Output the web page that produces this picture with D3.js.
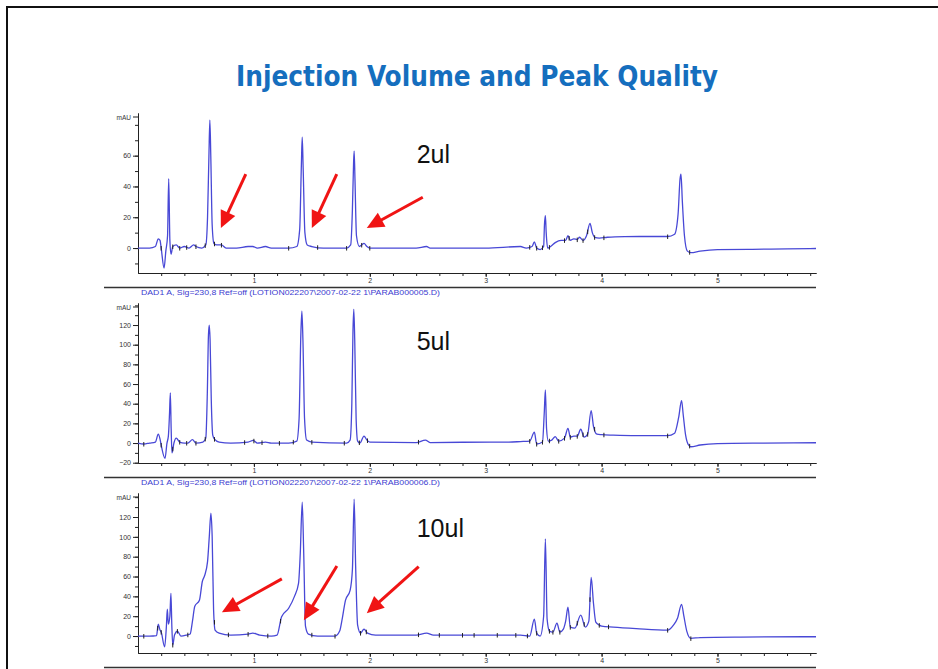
<!DOCTYPE html>
<html lang="en">
<head>
<meta charset="UTF-8">
<title>Injection Volume and Peak Quality</title>
<script src="https://d3js.org/d3.v7.min.js"></script>
<style>
  body { margin: 0; background: #fff; }
  svg { display: block; }
</style>
</head>
<body>
<script>
// chromatogram traces: [time (min), signal (mAU)]
const trace2ul = [[0,0],[0.1,0],[0.15,1],[0.175,6],[0.19,5],[0.2,0],[0.225,-13],[0.24,-2],[0.255,8],[0.265,45],[0.275,5],[0.285,-4],[0.3,1],[0.33,2],[0.36,0],[0.4,1],[0.44,0],[0.48,2],[0.5,1],[0.55,0],[0.585,2],[0.6,20],[0.612,60],[0.62,83],[0.628,60],[0.64,15],[0.655,3],[0.68,2],[0.72,2],[0.76,0],[0.85,0],[0.95,1],[0.99,1],[1.03,0],[1.1,1],[1.15,0],[1.3,0],[1.37,1],[1.395,12],[1.41,55],[1.417,72],[1.425,52],[1.44,10],[1.46,2],[1.5,1],[1.6,0],[1.8,0],[1.835,2],[1.85,25],[1.86,55],[1.865,63],[1.872,45],[1.885,8],[1.91,1],[1.93,2],[1.95,3],[1.975,1],[2.0,0],[2.4,0],[2.49,1],[2.52,0],[3.0,0],[3.3,1],[3.35,0],[3.4,1],[3.42,4],[3.44,0],[3.47,-1],[3.5,1],[3.507,15],[3.515,21],[3.522,10],[3.535,0],[3.56,1],[3.6,3.5],[3.65,5],[3.69,5],[3.71,8],[3.73,5],[3.76,6],[3.79,5.5],[3.81,7],[3.84,5],[3.87,8],[3.9,16],[3.92,10],[3.94,7],[3.98,6.5],[4.05,7],[4.2,7.4],[4.4,7.5],[4.57,7.5],[4.63,9],[4.66,22],[4.677,45],[4.685,48],[4.697,30],[4.715,8],[4.74,-2],[4.77,-3],[4.85,-2],[5.0,-1],[5.3,-0.8],[5.6,-0.5],[5.85,-0.3]];

const trace5ul = [[0,0],[0.05,-1],[0.1,0],[0.15,1],[0.175,9],[0.19,4],[0.2,-2],[0.233,-15.6],[0.25,0],[0.262,7],[0.272,30],[0.279,51],[0.286,15],[0.293,-10],[0.31,0],[0.33,5],[0.36,1],[0.4,0],[0.43,0],[0.47,3.4],[0.5,0],[0.56,1],[0.585,5],[0.598,50],[0.608,110],[0.615,120],[0.622,105],[0.632,45],[0.645,8],[0.66,4],[0.7,1],[0.8,0],[0.95,1],[0.994,2.7],[1.03,0],[1.1,1],[1.15,0],[1.3,0],[1.37,2],[1.39,25],[1.405,110],[1.414,134],[1.423,105],[1.437,25],[1.455,3],[1.5,1],[1.8,0],[1.83,3],[1.845,40],[1.855,115],[1.862,136],[1.87,105],[1.882,25],[1.895,2],[1.915,0],[1.95,7],[1.975,3],[2.0,1],[2.4,0.5],[2.48,3],[2.52,0.5],[3.04,1],[3.2,1],[3.3,1.5],[3.38,2],[3.42,11],[3.44,-1],[3.49,1],[3.505,30],[3.515,54],[3.525,15],[3.54,2],[3.57,3],[3.6,6.5],[3.63,2],[3.68,5],[3.71,15],[3.73,6],[3.76,7],[3.79,7],[3.82,14],[3.85,6],[3.88,9],[3.91,33],[3.93,17],[3.96,9],[4.0,8.5],[4.1,8],[4.3,7.5],[4.57,7.5],[4.63,10],[4.665,26],[4.69,43],[4.705,28],[4.725,8],[4.75,-2],[4.77,-3.8],[4.85,-2],[5.0,-0.5],[5.4,0],[5.85,0.3]];

const trace10ul = [[0,0],[0.1,0],[0.16,0.5],[0.175,12],[0.19,6],[0.2,4],[0.23,-11],[0.245,10],[0.253,27],[0.262,12],[0.275,20],[0.284,43],[0.292,10],[0.3,-9],[0.315,1],[0.34,5],[0.37,0],[0.42,1],[0.45,2],[0.47,15],[0.49,30],[0.53,36],[0.555,55],[0.575,61],[0.6,75],[0.615,100],[0.629,124],[0.64,100],[0.652,27],[0.665,6],[0.7,3],[0.8,1],[0.95,2],[0.99,3],[1.05,1],[1.15,0],[1.2,1],[1.239,19.5],[1.3,28],[1.35,40],[1.385,53],[1.4,83],[1.417,135],[1.43,83],[1.445,10],[1.47,2],[1.55,0],[1.7,0],[1.74,5],[1.76,16],[1.79,36],[1.83,46],[1.85,67],[1.865,138],[1.878,70],[1.895,11],[1.92,3],[1.95,7],[1.98,3],[2.05,1],[2.4,1],[2.49,3],[2.55,1],[3.0,1],[3.3,1],[3.38,0],[3.42,17],[3.44,3],[3.47,0],[3.5,20],[3.515,98],[3.53,17],[3.55,5],[3.58,4],[3.615,13],[3.64,4],[3.67,7],[3.69,15],[3.71,29],[3.73,9],[3.77,8],[3.82,21],[3.86,9],[3.89,15],[3.91,59],[3.93,33],[3.95,14],[3.98,11],[4.0,10],[4.1,9],[4.3,7.5],[4.57,6],[4.62,11],[4.655,18],[4.69,32],[4.71,20],[4.735,5],[4.77,-2.4],[4.85,-1.5],[5.2,-1],[5.85,-0.7]];

// integration marks (times, min)
const marks2ul = [0.2,0.3,0.36,0.42,0.5,0.58,0.66,0.72,1.3,1.55,1.8,1.93,2.0,3.38,3.44,3.49,3.55,3.68,3.72,3.79,3.84,3.88,3.94,4.02,4.57,4.76];
const marks5ul = [0.05,0.2,0.3,0.36,0.42,0.5,0.58,0.66,0.92,1.0,1.07,1.22,1.34,1.5,1.78,1.91,1.98,2.42,3.38,3.44,3.49,3.55,3.63,3.68,3.73,3.79,3.84,3.88,3.94,4.02,4.57,4.76];
const marks10ul = [0.05,0.17,0.2,0.3,0.34,0.43,0.66,0.78,0.95,1.12,1.23,1.5,1.7,1.92,1.97,2.42,2.6,2.8,2.9,3.1,3.26,3.36,3.44,3.55,3.58,3.64,3.73,3.79,3.85,3.9,3.98,4.06,4.57,4.77];

// y ticks with labels
const ticks2ul = [0, 20, 40, 60];
const ticks5ul = [-20, 0, 20, 40, 60, 80, 100, 120];
const ticks10ul = [0, 20, 40, 60, 80, 100, 120];
const xTicks = [1, 2, 3, 4, 5];

const volumes = ['2ul', '5ul', '10ul'];
const headers = [null,
  'DAD1 A, Sig=230,8 Ref=off (LOTION022207\\2007-02-22 1\\PARAB000005.D)',
  'DAD1 A, Sig=230,8 Ref=off (LOTION022207\\2007-02-22 1\\PARAB000006.D)'];

// arrows [t0, v0, t1, v1] (tail -> tip)
const arrows2ul = [[0.93,48,0.715,13],[1.715,48,1.5,13],[2.457,33,1.974,13]];
const arrows10ul = [[1.241,57.6,0.724,24],[1.716,70.7,1.431,16],[2.422,70,1.974,23]];

const W = 938, H = 669;
const svg = d3.select('body').append('svg').attr('width', W).attr('height', H);

// frame
svg.append('rect').attr('x', 7).attr('y', 7).attr('width', 1000).attr('height', 1000)
  .attr('fill', 'none').attr('stroke', '#111').attr('stroke-width', 2);

svg.append('text')
  .attr('x', 236).attr('y', 86)
  .attr('font-family', '"DejaVu Sans Condensed", "DejaVu Sans", sans-serif')
  .attr('font-weight', 'bold')
  .attr('font-size', 29)
  .attr('textLength', 482).attr('lengthAdjust', 'spacingAndGlyphs')
  .attr('fill', '#156ebe')
  .text('Injection Volume and Peak Quality');

const x = d3.scaleLinear().domain([0, 5.85]).range([138, 816]);

const panels = [
  { trace: trace2ul, marks: marks2ul, ticks: ticks2ul, arrows: arrows2ul, top: 113, bottom: 273, dom: [-16.2, 87.7], labelV: 55 },
  { trace: trace5ul, marks: marks5ul, ticks: ticks5ul, arrows: [], top: 303, bottom: 463, dom: [-20.3, 142.4], labelV: 95 },
  { trace: trace10ul, marks: marks10ul, ticks: ticks10ul, arrows: arrows10ul, top: 493, bottom: 653, dom: [-17.1, 144.2], labelV: 100 }
];

const tickFont = '"Liberation Sans", Arial, sans-serif';

function valueAt(tr, t) {
  for (let i = 1; i < tr.length; i++) {
    if (tr[i][0] >= t) {
      const a = tr[i - 1], b = tr[i];
      return a[1] + (b[1] - a[1]) * (t - a[0]) / (b[0] - a[0]);
    }
  }
  return tr[tr.length - 1][1];
}

panels.forEach((p, i) => {
  const y = d3.scaleLinear().domain(p.dom).range([p.bottom, p.top]);
  const g = svg.append('g');

  // separator line under the panel + header text
  g.append('line').attr('x1', 104).attr('x2', 816)
    .attr('y1', p.bottom + 14.5).attr('y2', p.bottom + 14.5)
    .attr('stroke', '#333').attr('stroke-width', 1.5);
  if (headers[i]) {
    g.append('text').attr('x', 141).attr('y', p.top - 8)
      .attr('font-family', tickFont).attr('font-size', 8)
      .attr('textLength', 299).attr('lengthAdjust', 'spacingAndGlyphs')
      .attr('fill', '#3c3cd0').text(headers[i]);
  }

  // x axis: minor + major
  const xa = g.append('g').attr('transform', `translate(0,${p.bottom})`);
  xa.call(d3.axisBottom(x).tickValues(d3.range(1, 30).map(k => k * 0.2)).tickSize(3).tickSizeOuter(0).tickFormat(''));
  const xm = g.append('g').attr('transform', `translate(0,${p.bottom})`);
  xm.call(d3.axisBottom(x).tickValues(xTicks).tickSize(4).tickSizeOuter(0).tickPadding(1).tickFormat(d3.format('d')));
  [xa, xm].forEach(a => {
    a.select('.domain').attr('stroke', '#222');
    a.selectAll('line').attr('stroke', '#222');
    a.selectAll('text').attr('font-family', tickFont).attr('font-size', 7).attr('fill', '#333');
  });

  // y axis: minor + major
  const minor = d3.range(Math.ceil(p.dom[0] / 10) * 10, p.dom[1], 10);
  const ya = g.append('g').attr('transform', 'translate(138,0)');
  ya.call(d3.axisLeft(y).tickValues(minor).tickSize(3).tickSizeOuter(0).tickFormat(''));
  const ym = g.append('g').attr('transform', 'translate(138,0)');
  ym.call(d3.axisLeft(y).tickValues(p.ticks).tickSize(5).tickSizeOuter(0).tickPadding(2));
  [ya, ym].forEach(a => {
    a.select('.domain').attr('stroke', '#222');
    a.selectAll('line').attr('stroke', '#222');
    a.selectAll('text').attr('font-family', tickFont).attr('font-size', 7).attr('fill', '#333');
  });
  g.append('line').attr('x1', 133).attr('x2', 138).attr('y1', p.top + 4).attr('y2', p.top + 4).attr('stroke', '#222');
  g.append('text').attr('x', 131).attr('y', p.top + 6.5).attr('text-anchor', 'end')
    .attr('font-family', tickFont).attr('font-size', 6.5).attr('fill', '#333').text('mAU');

  // trace
  const line = d3.line().x(d => x(d[0])).y(d => y(d[1])).curve(d3.curveMonotoneX);
  g.append('path').datum(p.trace).attr('d', line)
    .attr('fill', 'none').attr('stroke', '#4848d6').attr('stroke-width', 1.3)
    .attr('stroke-linejoin', 'round');

  // integration marks
  g.selectAll('.mk').data(p.marks).join('line')
    .attr('x1', d => x(d)).attr('x2', d => x(d))
    .attr('y1', d => y(valueAt(p.trace, d)) - 2).attr('y2', d => y(valueAt(p.trace, d)) + 2.5)
    .attr('stroke', '#222').attr('stroke-width', 1);

  // volume label
  g.append('text').attr('x', x(2.405)).attr('y', y(p.labelV))
    .attr('font-family', tickFont).attr('font-size', 25).attr('fill', '#111')
    .text(volumes[i]);

  // arrows
  p.arrows.forEach(a => {
    const x0 = x(a[0]), y0 = y(a[1]), x1 = x(a[2]), y1 = y(a[3]);
    const ang = Math.atan2(y1 - y0, x1 - x0);
    const hl = 17, hw = 8;
    const bx = x1 - hl * Math.cos(ang), by = y1 - hl * Math.sin(ang);
    g.append('line').attr('x1', x0).attr('y1', y0).attr('x2', bx + 2 * Math.cos(ang)).attr('y2', by + 2 * Math.sin(ang))
      .attr('stroke', '#f01414').attr('stroke-width', 3);
    const pts = [[x1, y1],
      [bx + hw * Math.sin(ang), by - hw * Math.cos(ang)],
      [bx - hw * Math.sin(ang), by + hw * Math.cos(ang)]];
    g.append('polygon').attr('points', pts.map(q => q.join(',')).join(' ')).attr('fill', '#f01414');
  });
});
</script>
</body>
</html>
